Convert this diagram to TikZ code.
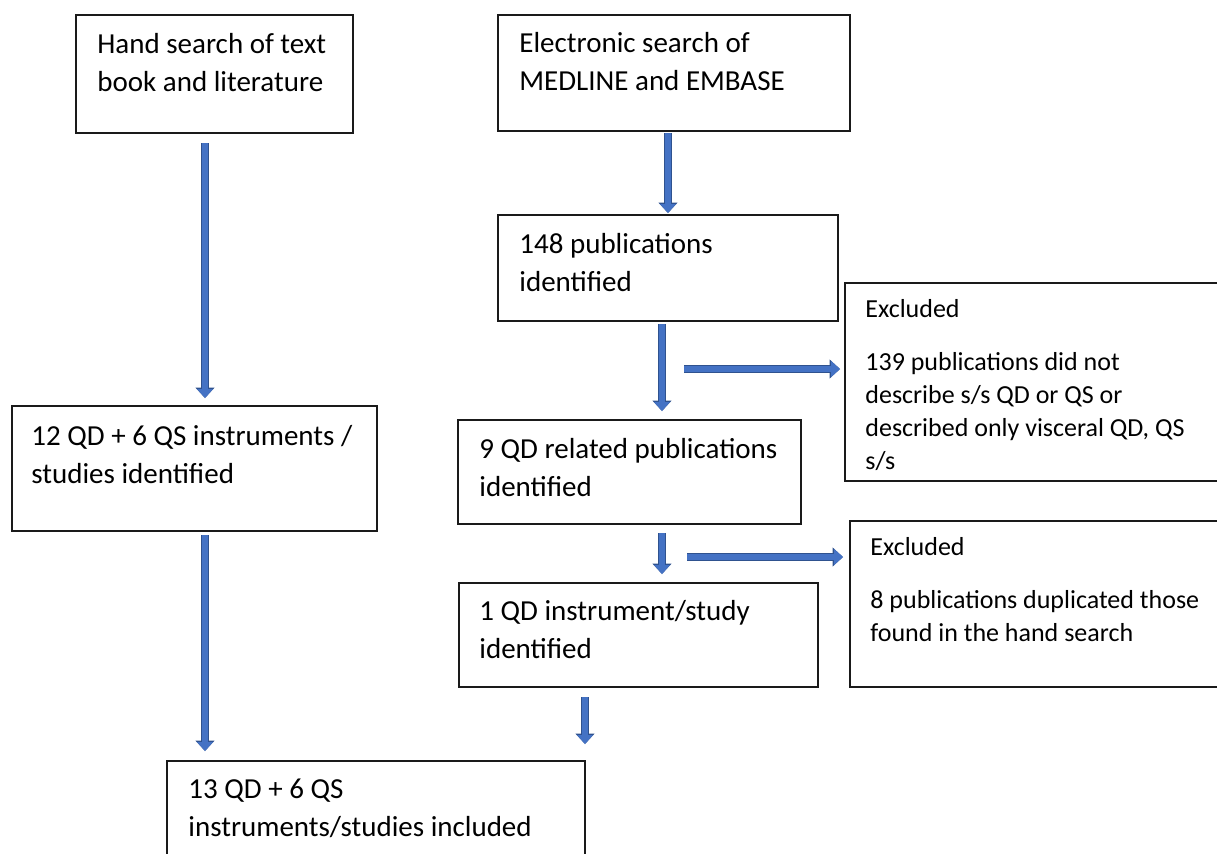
\documentclass[tikz,border=0pt]{standalone}
\usepackage{fontspec}
\setmainfont{Carlito}
\usepackage{tikz}
\usetikzlibrary{arrows.meta,positioning,calc}
\definecolor{azul}{HTML}{4472C4}
\definecolor{azulosc}{HTML}{2F528F}
\definecolor{borde}{HTML}{1A1A1A}
\tikzset{
  caja/.style    = {draw=borde, line width=0.8pt, fill=white, anchor=north west,
                    inner sep=0pt, outer sep=0pt},
  texto/.style   = {anchor=north west, inner sep=0pt, align=left,
                    font=\fontsize{14.5pt}{19pt}\selectfont},
  textop/.style  = {texto, font=\fontsize{13pt}{16.5pt}\selectfont},
  flecha/.style  = {-{Triangle[length=4.5pt,width=8pt,line width=0pt]}, draw=azul,
                    line width=3pt,
                    preaction={draw=azulosc, line width=4.2pt,
                      -{Triangle[length=5.2pt,width=9.6pt,line width=0pt]}}},
}

\begin{document}
\begin{tikzpicture}[x=0.5pt,y=-0.5pt]
\useasboundingbox (0,0) rectangle (1217,853);
\clip (0,0) rectangle (1217,853);

% =============================================================================
% Cajas
% =============================================================================
\node[caja, minimum width=138.5pt, minimum height=59pt] (mano) at (76,15) {};
\node[caja, minimum width=176pt, minimum height=58pt] (elec) at (498,15) {};
\node[caja, minimum width=170pt, minimum height=53pt] (pub) at (498,215) {};
\node[caja, minimum width=200pt, minimum height=99pt] (excl1) at (845,283) {};
\node[caja, minimum width=182.5pt, minimum height=62.5pt] (qdqs) at (12,406) {};
\node[caja, minimum width=171.5pt, minimum height=52pt] (rel) at (458,420) {};
\node[caja, minimum width=200pt, minimum height=83pt] (excl2) at (850,521) {};
\node[caja, minimum width=179.5pt, minimum height=52pt] (inst) at (459,583) {};
\node[caja, minimum width=209pt, minimum height=75pt] (incl) at (167,761) {};

% =============================================================================
% Textos
% =============================================================================
\node[texto] (mano-t) at ([shift={(21,18)}]mano.north west) {Hand search of text\\book and literature};
\node[texto] (elec-t) at ([shift={(21,17)}]elec.north west) {Electronic search of\\MEDLINE and EMBASE};
\node[texto] (pub-t) at ([shift={(21,18)}]pub.north west) {148 publications\\identified};
\node[textop] (excl1-t) at ([shift={(20,16)}]excl1.north west) {Excluded\\[10pt]139 publications did not\\describe s/s QD or QS or\\described only visceral QD, QS\\s/s};
\node[texto] (qdqs-t) at ([shift={(19,19)}]qdqs.north west) {12 QD + 6 QS instruments /\\studies identified};
\node[texto] (rel-t) at ([shift={(21,18)}]rel.north west) {9 QD related publications\\identified};
\node[textop] (excl2-t) at ([shift={(20,16)}]excl2.north west) {Excluded\\[10pt]8 publications duplicated those\\found in the hand search};
\node[texto] (inst-t) at ([shift={(20,17)}]inst.north west) {1 QD instrument/study\\identified};
\node[texto] (incl-t) at ([shift={(21,18)}]incl.north west) {13 QD + 6 QS\\instruments/studies included};

% =============================================================================
% Flechas
% =============================================================================
\coordinate (sal1) at (684,369);
\coordinate (sal2) at (687,557);

\draw[flecha] ([shift={(129,10)}]mano.south west) -- ([shift={(193,-8)}]qdqs.north west);
\draw[flecha] ([shift={(170,2)}]elec.south west) -- ([shift={(170,-2)}]pub.north west);
\draw[flecha] ([shift={(164,3)}]pub.south west) -- ([shift={(204,-9)}]rel.north west);
\draw[flecha] (sal1) -- ([shift={(-5,86)}]excl1.north west);
\draw[flecha] ([shift={(193,4)}]qdqs.south west) -- ([shift={(38,-10)}]incl.north west);
\draw[flecha] ([shift={(204,9)}]rel.south west) -- ([shift={(203,-9)}]inst.north west);
\draw[flecha] (sal2) -- ([shift={(-7,36)}]excl2.north west);
\draw[flecha] ([shift={(126,10)}]inst.south west) -- ([shift={(0,-17)}]incl.north east);

\end{tikzpicture}
\end{document}
